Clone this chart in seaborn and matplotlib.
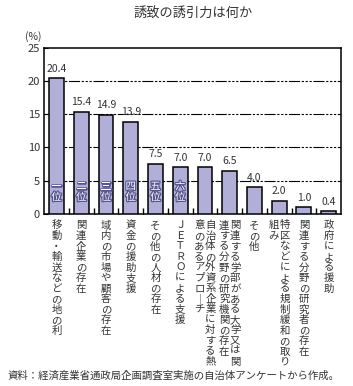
import pandas as pd
import matplotlib
matplotlib.use('Agg')
import matplotlib.pyplot as plt
import matplotlib.patheffects as pe
import matplotlib.transforms as mtrans
import seaborn as sns

# Data
factors = [
    '移動・輸送などの地の利',
    '関連企業の存在',
    '域内の市場や顧客の存在',
    '資金の援助支援',
    'その他の人材の存在',
    'ＪＥＴＲＯによる支援',
    '自治体の外資系企業に対する熱意のあるアプローチ',
    '関連する学部がある大学又は関連する分野の研究機関の存在',
    'その他',
    '特区などによる規制緩和の取り組み',
    '関連する分野の研究者の存在',
    '政府による援助',
]
# vertical label columns (right column first, as read in Japanese)
label_columns = [
    ['移動・輸送などの地の利'],
    ['関連企業の存在'],
    ['域内の市場や顧客の存在'],
    ['資金の援助支援'],
    ['その他の人材の存在'],
    ['ＪＥＴＲＯによる支援'],
    ['自治体の外資系企業に対する熱', '意のあるアプローチ'],
    ['関連する学部がある大学又は関', '連する分野の研究機関の存在'],
    ['その他'],
    ['特区などによる規制緩和の取り', '組み'],
    ['関連する分野の研究者の存在'],
    ['政府による援助'],
]
shares = [20.4, 15.4, 14.9, 13.9, 7.5, 7.0, 7.0, 6.5, 4.0, 2.0, 1.0, 0.4]
ranks = ['一位', '二位', '三位', '四位', '五位', '六位']

df = pd.DataFrame({'factor': factors, 'share': shares})

plt.rcParams['font.family'] = ['Noto Sans CJK JP', 'DejaVu Sans']

fig = plt.figure(figsize=(3.53, 3.86), dpi=100)
ax = fig.add_axes([0.125, 0.446, 0.841, 0.430])

sns.barplot(data=df, x='factor', y='share', color='#b1afd8', saturation=1,
            edgecolor='black', linewidth=1.1, width=0.6, ax=ax, zorder=3)

ax.set_ylim(0, 25)
ax.set_xlim(-0.5, len(factors) - 0.5)
ax.set_yticks([0, 5, 10, 15, 20, 25])
ax.tick_params(axis='y', direction='in', length=3, labelsize=8, pad=3,
               labelcolor='#333333')
ax.set_xticks([])
ax.set_xticks([i + 0.5 for i in range(len(factors) - 1)], minor=True)
ax.tick_params(axis='x', which='minor', direction='in', length=4, width=1)
ax.set_xlabel('')
ax.set_ylabel('')
for y in [5, 10, 15, 20]:
    ax.axhline(y, color='black', linewidth=0.8, zorder=1,
               linestyle=(0, (10, 1.5, 2, 1.5, 2, 1.5, 2, 1.5)))
for s in ax.spines.values():
    s.set_linewidth(1.1)
    s.set_color('black')

# value labels
for i, v in enumerate(shares):
    ax.text(i, v + 0.7, f'{v:.1f}', ha='center', va='bottom', fontsize=7.5,
            color='#333333', zorder=4)

# rank labels inside bars
for i, r in enumerate(ranks):
    ax.text(i, 3.3, '\n'.join(r), ha='center', va='center', fontsize=7.5,
            color='white', linespacing=1.1, zorder=5,
            path_effects=[pe.withStroke(linewidth=1.8, foreground='#55548f')])

# vertical category labels under the axis
trans = mtrans.blended_transform_factory(ax.transData, ax.transAxes)
for i, cols in enumerate(label_columns):
    n = len(cols)
    for j, col in enumerate(cols):
        off = 0.0 if n == 1 else (0.22 - 0.44 * j)
        txt = '\n'.join(col.replace('ー', '｜'))
        ax.text(i + off, -0.04, txt, transform=trans, ha='center', va='top',
                fontsize=7.5, linespacing=1.06, color='#333333')

fig.text(0.547, 0.963, '誘致の誘引力は何か', ha='center', va='center',
         fontsize=9.5, color='#333333')
fig.text(0.071, 0.905, '(%)', ha='left', va='center', fontsize=7.5,
         color='#333333')
fig.text(0.02, 0.028, '資料：経済産業省通政局企画調査室実施の自治体アンケートから作成。',
         ha='left', va='center', fontsize=7.5, color='#333333')

fig.savefig('out.png', dpi=100)
